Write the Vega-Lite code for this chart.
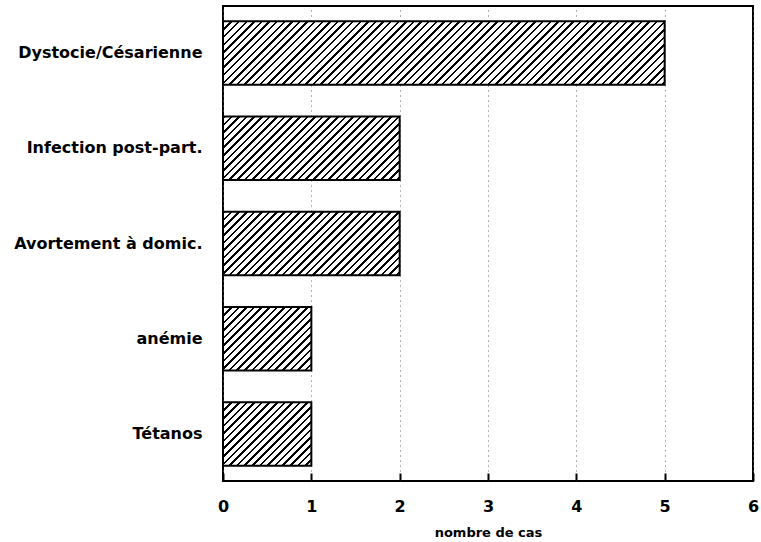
{
  "$schema": "https://vega.github.io/schema/vega-lite/v6.json",
  "width": 530,
  "height": 475,
  "autosize": {"type": "none"},
  "padding": {"left": 223, "top": 6, "right": 8, "bottom": 61},
  "background": "white",
  "config": {"view": {"stroke": "#000", "strokeWidth": 2}, "font": "DejaVu Sans"},
  "data": {"values": [
    {"cause": "Dystocie/Césarienne", "n": 5},
    {"cause": "Infection post-part.", "n": 2},
    {"cause": "Avortement à domic.", "n": 2},
    {"cause": "anémie", "n": 1},
    {"cause": "Tétanos", "n": 1}
  ]},
  "mark": {"type": "bar", "stroke": "#000", "strokeWidth": 2},
  "encoding": {
    "y": {"field": "cause", "type": "nominal", "sort": null,
      "scale": {"paddingInner": 0.333, "paddingOuter": 0.16},
      "axis": {"title": null, "domain": false, "tickSize": -5, "tickColor": "#000", "tickWidth": 1.5,
        "labelPadding": 26, "labelFont": "DejaVu Sans", "labelFontSize": 16, "labelFontWeight": "bold",
        "labelColor": "#000", "labelLimit": 300}},
    "x": {"field": "n", "type": "quantitative",
      "scale": {"domain": [0, 6], "nice": false},
      "axis": {"title": "nombre de cas", "titleFont": "DejaVu Sans", "titleFontSize": 13, "titleFontWeight": "bold",
        "titleColor": "#000", "titlePadding": 12, "values": [0, 1, 2, 3, 4, 5, 6], "format": "d",
        "tickSize": -8, "tickColor": "#000", "tickWidth": 2, "labelPadding": 25,
        "labelFont": "DejaVu Sans", "labelFontSize": 16, "labelFontWeight": "bold", "labelColor": "#000",
        "labelFlush": false, "grid": true, "gridDash": [1, 4], "gridColor": "#666", "domain": false}},
    "fill": {
      "condition": [
        {"test": "datum.n == 5", "value": {"gradient": "linear", "x1": 0, "y1": 0, "x2": 1.1239, "y2": 0.1617, "stops": [
          {"offset":0,"color":"#000"},{"offset":0.005,"color":"#000"},{"offset":0.005,"color":"#fff"},{"offset":0.015,"color":"#fff"},
          {"offset":0.015,"color":"#000"},{"offset":0.02,"color":"#000"},{"offset":0.02,"color":"#fff"},{"offset":0.03,"color":"#fff"},
          {"offset":0.03,"color":"#000"},{"offset":0.035,"color":"#000"},{"offset":0.035,"color":"#fff"},{"offset":0.045,"color":"#fff"},
          {"offset":0.045,"color":"#000"},{"offset":0.05,"color":"#000"},{"offset":0.05,"color":"#fff"},{"offset":0.06,"color":"#fff"},
          {"offset":0.06,"color":"#000"},{"offset":0.065,"color":"#000"},{"offset":0.065,"color":"#fff"},{"offset":0.075,"color":"#fff"},
          {"offset":0.075,"color":"#000"},{"offset":0.08,"color":"#000"},{"offset":0.08,"color":"#fff"},{"offset":0.09,"color":"#fff"},
          {"offset":0.09,"color":"#000"},{"offset":0.095,"color":"#000"},{"offset":0.095,"color":"#fff"},{"offset":0.105,"color":"#fff"},
          {"offset":0.105,"color":"#000"},{"offset":0.11,"color":"#000"},{"offset":0.11,"color":"#fff"},{"offset":0.12,"color":"#fff"},
          {"offset":0.12,"color":"#000"},{"offset":0.125,"color":"#000"},{"offset":0.125,"color":"#fff"},{"offset":0.135,"color":"#fff"},
          {"offset":0.135,"color":"#000"},{"offset":0.14,"color":"#000"},{"offset":0.14,"color":"#fff"},{"offset":0.15,"color":"#fff"},
          {"offset":0.15,"color":"#000"},{"offset":0.155,"color":"#000"},{"offset":0.155,"color":"#fff"},{"offset":0.165,"color":"#fff"},
          {"offset":0.165,"color":"#000"},{"offset":0.17,"color":"#000"},{"offset":0.17,"color":"#fff"},{"offset":0.18,"color":"#fff"},
          {"offset":0.18,"color":"#000"},{"offset":0.185,"color":"#000"},{"offset":0.185,"color":"#fff"},{"offset":0.195,"color":"#fff"},
          {"offset":0.195,"color":"#000"},{"offset":0.2,"color":"#000"},{"offset":0.2,"color":"#fff"},{"offset":0.21,"color":"#fff"},
          {"offset":0.21,"color":"#000"},{"offset":0.215,"color":"#000"},{"offset":0.215,"color":"#fff"},{"offset":0.225,"color":"#fff"},
          {"offset":0.225,"color":"#000"},{"offset":0.23,"color":"#000"},{"offset":0.23,"color":"#fff"},{"offset":0.24,"color":"#fff"},
          {"offset":0.24,"color":"#000"},{"offset":0.245,"color":"#000"},{"offset":0.245,"color":"#fff"},{"offset":0.255,"color":"#fff"},
          {"offset":0.255,"color":"#000"},{"offset":0.26,"color":"#000"},{"offset":0.26,"color":"#fff"},{"offset":0.27,"color":"#fff"},
          {"offset":0.27,"color":"#000"},{"offset":0.275,"color":"#000"},{"offset":0.275,"color":"#fff"},{"offset":0.285,"color":"#fff"},
          {"offset":0.285,"color":"#000"},{"offset":0.29,"color":"#000"},{"offset":0.29,"color":"#fff"},{"offset":0.3,"color":"#fff"},
          {"offset":0.3,"color":"#000"},{"offset":0.305,"color":"#000"},{"offset":0.305,"color":"#fff"},{"offset":0.315,"color":"#fff"},
          {"offset":0.315,"color":"#000"},{"offset":0.32,"color":"#000"},{"offset":0.32,"color":"#fff"},{"offset":0.33,"color":"#fff"},
          {"offset":0.33,"color":"#000"},{"offset":0.335,"color":"#000"},{"offset":0.335,"color":"#fff"},{"offset":0.345,"color":"#fff"},
          {"offset":0.345,"color":"#000"},{"offset":0.35,"color":"#000"},{"offset":0.35,"color":"#fff"},{"offset":0.36,"color":"#fff"},
          {"offset":0.36,"color":"#000"},{"offset":0.365,"color":"#000"},{"offset":0.365,"color":"#fff"},{"offset":0.375,"color":"#fff"},
          {"offset":0.375,"color":"#000"},{"offset":0.38,"color":"#000"},{"offset":0.38,"color":"#fff"},{"offset":0.39,"color":"#fff"},
          {"offset":0.39,"color":"#000"},{"offset":0.395,"color":"#000"},{"offset":0.395,"color":"#fff"},{"offset":0.405,"color":"#fff"},
          {"offset":0.405,"color":"#000"},{"offset":0.41,"color":"#000"},{"offset":0.41,"color":"#fff"},{"offset":0.42,"color":"#fff"},
          {"offset":0.42,"color":"#000"},{"offset":0.425,"color":"#000"},{"offset":0.425,"color":"#fff"},{"offset":0.435,"color":"#fff"},
          {"offset":0.435,"color":"#000"},{"offset":0.44,"color":"#000"},{"offset":0.44,"color":"#fff"},{"offset":0.45,"color":"#fff"},
          {"offset":0.45,"color":"#000"},{"offset":0.455,"color":"#000"},{"offset":0.455,"color":"#fff"},{"offset":0.465,"color":"#fff"},
          {"offset":0.465,"color":"#000"},{"offset":0.47,"color":"#000"},{"offset":0.47,"color":"#fff"},{"offset":0.48,"color":"#fff"},
          {"offset":0.48,"color":"#000"},{"offset":0.485,"color":"#000"},{"offset":0.485,"color":"#fff"},{"offset":0.495,"color":"#fff"},
          {"offset":0.495,"color":"#000"},{"offset":0.5,"color":"#000"},{"offset":0.5,"color":"#fff"},{"offset":0.51,"color":"#fff"},
          {"offset":0.51,"color":"#000"},{"offset":0.515,"color":"#000"},{"offset":0.515,"color":"#fff"},{"offset":0.525,"color":"#fff"},
          {"offset":0.525,"color":"#000"},{"offset":0.53,"color":"#000"},{"offset":0.53,"color":"#fff"},{"offset":0.54,"color":"#fff"},
          {"offset":0.54,"color":"#000"},{"offset":0.545,"color":"#000"},{"offset":0.545,"color":"#fff"},{"offset":0.555,"color":"#fff"},
          {"offset":0.555,"color":"#000"},{"offset":0.56,"color":"#000"},{"offset":0.56,"color":"#fff"},{"offset":0.57,"color":"#fff"},
          {"offset":0.57,"color":"#000"},{"offset":0.575,"color":"#000"},{"offset":0.575,"color":"#fff"},{"offset":0.585,"color":"#fff"},
          {"offset":0.585,"color":"#000"},{"offset":0.59,"color":"#000"},{"offset":0.59,"color":"#fff"},{"offset":0.6,"color":"#fff"},
          {"offset":0.6,"color":"#000"},{"offset":0.605,"color":"#000"},{"offset":0.605,"color":"#fff"},{"offset":0.615,"color":"#fff"},
          {"offset":0.615,"color":"#000"},{"offset":0.62,"color":"#000"},{"offset":0.62,"color":"#fff"},{"offset":0.63,"color":"#fff"},
          {"offset":0.63,"color":"#000"},{"offset":0.635,"color":"#000"},{"offset":0.635,"color":"#fff"},{"offset":0.645,"color":"#fff"},
          {"offset":0.645,"color":"#000"},{"offset":0.65,"color":"#000"},{"offset":0.65,"color":"#fff"},{"offset":0.66,"color":"#fff"},
          {"offset":0.66,"color":"#000"},{"offset":0.665,"color":"#000"},{"offset":0.665,"color":"#fff"},{"offset":0.675,"color":"#fff"},
          {"offset":0.675,"color":"#000"},{"offset":0.68,"color":"#000"},{"offset":0.68,"color":"#fff"},{"offset":0.69,"color":"#fff"},
          {"offset":0.69,"color":"#000"},{"offset":0.695,"color":"#000"},{"offset":0.695,"color":"#fff"},{"offset":0.705,"color":"#fff"},
          {"offset":0.705,"color":"#000"},{"offset":0.71,"color":"#000"},{"offset":0.71,"color":"#fff"},{"offset":0.72,"color":"#fff"},
          {"offset":0.72,"color":"#000"},{"offset":0.725,"color":"#000"},{"offset":0.725,"color":"#fff"},{"offset":0.735,"color":"#fff"},
          {"offset":0.735,"color":"#000"},{"offset":0.74,"color":"#000"},{"offset":0.74,"color":"#fff"},{"offset":0.75,"color":"#fff"},
          {"offset":0.75,"color":"#000"},{"offset":0.755,"color":"#000"},{"offset":0.755,"color":"#fff"},{"offset":0.765,"color":"#fff"},
          {"offset":0.765,"color":"#000"},{"offset":0.77,"color":"#000"},{"offset":0.77,"color":"#fff"},{"offset":0.78,"color":"#fff"},
          {"offset":0.78,"color":"#000"},{"offset":0.785,"color":"#000"},{"offset":0.785,"color":"#fff"},{"offset":0.795,"color":"#fff"},
          {"offset":0.795,"color":"#000"},{"offset":0.8,"color":"#000"},{"offset":0.8,"color":"#fff"},{"offset":0.81,"color":"#fff"},
          {"offset":0.81,"color":"#000"},{"offset":0.815,"color":"#000"},{"offset":0.815,"color":"#fff"},{"offset":0.825,"color":"#fff"},
          {"offset":0.825,"color":"#000"},{"offset":0.83,"color":"#000"},{"offset":0.83,"color":"#fff"},{"offset":0.84,"color":"#fff"},
          {"offset":0.84,"color":"#000"},{"offset":0.845,"color":"#000"},{"offset":0.845,"color":"#fff"},{"offset":0.855,"color":"#fff"},
          {"offset":0.855,"color":"#000"},{"offset":0.86,"color":"#000"},{"offset":0.86,"color":"#fff"},{"offset":0.87,"color":"#fff"},
          {"offset":0.87,"color":"#000"},{"offset":0.875,"color":"#000"},{"offset":0.875,"color":"#fff"},{"offset":0.885,"color":"#fff"},
          {"offset":0.885,"color":"#000"},{"offset":0.89,"color":"#000"},{"offset":0.89,"color":"#fff"},{"offset":0.9,"color":"#fff"},
          {"offset":0.9,"color":"#000"},{"offset":0.905,"color":"#000"},{"offset":0.905,"color":"#fff"},{"offset":0.915,"color":"#fff"},
          {"offset":0.915,"color":"#000"},{"offset":0.92,"color":"#000"},{"offset":0.92,"color":"#fff"},{"offset":0.93,"color":"#fff"},
          {"offset":0.93,"color":"#000"},{"offset":0.935,"color":"#000"},{"offset":0.935,"color":"#fff"},{"offset":0.945,"color":"#fff"},
          {"offset":0.945,"color":"#000"},{"offset":0.95,"color":"#000"},{"offset":0.95,"color":"#fff"},{"offset":0.96,"color":"#fff"},
          {"offset":0.96,"color":"#000"},{"offset":0.965,"color":"#000"},{"offset":0.965,"color":"#fff"},{"offset":0.975,"color":"#fff"},
          {"offset":0.975,"color":"#000"},{"offset":0.98,"color":"#000"},{"offset":0.98,"color":"#fff"},{"offset":0.99,"color":"#fff"},
          {"offset":0.99,"color":"#000"},{"offset":0.995,"color":"#000"},{"offset":0.995,"color":"#fff"},{"offset":1,"color":"#fff"}
        ]}},
        {"test": "datum.n == 2", "value": {"gradient": "linear", "x1": 0, "y1": 0, "x2": 1.2697, "y2": 0.4566, "stops": [
          {"offset":0,"color":"#000"},{"offset":0.01,"color":"#000"},{"offset":0.01,"color":"#fff"},{"offset":0.03,"color":"#fff"},
          {"offset":0.03,"color":"#000"},{"offset":0.04,"color":"#000"},{"offset":0.04,"color":"#fff"},{"offset":0.06,"color":"#fff"},
          {"offset":0.06,"color":"#000"},{"offset":0.07,"color":"#000"},{"offset":0.07,"color":"#fff"},{"offset":0.09,"color":"#fff"},
          {"offset":0.09,"color":"#000"},{"offset":0.1,"color":"#000"},{"offset":0.1,"color":"#fff"},{"offset":0.12,"color":"#fff"},
          {"offset":0.12,"color":"#000"},{"offset":0.13,"color":"#000"},{"offset":0.13,"color":"#fff"},{"offset":0.15,"color":"#fff"},
          {"offset":0.15,"color":"#000"},{"offset":0.16,"color":"#000"},{"offset":0.16,"color":"#fff"},{"offset":0.18,"color":"#fff"},
          {"offset":0.18,"color":"#000"},{"offset":0.19,"color":"#000"},{"offset":0.19,"color":"#fff"},{"offset":0.21,"color":"#fff"},
          {"offset":0.21,"color":"#000"},{"offset":0.22,"color":"#000"},{"offset":0.22,"color":"#fff"},{"offset":0.24,"color":"#fff"},
          {"offset":0.24,"color":"#000"},{"offset":0.25,"color":"#000"},{"offset":0.25,"color":"#fff"},{"offset":0.27,"color":"#fff"},
          {"offset":0.27,"color":"#000"},{"offset":0.28,"color":"#000"},{"offset":0.28,"color":"#fff"},{"offset":0.3,"color":"#fff"},
          {"offset":0.3,"color":"#000"},{"offset":0.31,"color":"#000"},{"offset":0.31,"color":"#fff"},{"offset":0.33,"color":"#fff"},
          {"offset":0.33,"color":"#000"},{"offset":0.34,"color":"#000"},{"offset":0.34,"color":"#fff"},{"offset":0.36,"color":"#fff"},
          {"offset":0.36,"color":"#000"},{"offset":0.37,"color":"#000"},{"offset":0.37,"color":"#fff"},{"offset":0.39,"color":"#fff"},
          {"offset":0.39,"color":"#000"},{"offset":0.4,"color":"#000"},{"offset":0.4,"color":"#fff"},{"offset":0.42,"color":"#fff"},
          {"offset":0.42,"color":"#000"},{"offset":0.43,"color":"#000"},{"offset":0.43,"color":"#fff"},{"offset":0.45,"color":"#fff"},
          {"offset":0.45,"color":"#000"},{"offset":0.46,"color":"#000"},{"offset":0.46,"color":"#fff"},{"offset":0.48,"color":"#fff"},
          {"offset":0.48,"color":"#000"},{"offset":0.49,"color":"#000"},{"offset":0.49,"color":"#fff"},{"offset":0.51,"color":"#fff"},
          {"offset":0.51,"color":"#000"},{"offset":0.52,"color":"#000"},{"offset":0.52,"color":"#fff"},{"offset":0.54,"color":"#fff"},
          {"offset":0.54,"color":"#000"},{"offset":0.55,"color":"#000"},{"offset":0.55,"color":"#fff"},{"offset":0.57,"color":"#fff"},
          {"offset":0.57,"color":"#000"},{"offset":0.58,"color":"#000"},{"offset":0.58,"color":"#fff"},{"offset":0.6,"color":"#fff"},
          {"offset":0.6,"color":"#000"},{"offset":0.61,"color":"#000"},{"offset":0.61,"color":"#fff"},{"offset":0.63,"color":"#fff"},
          {"offset":0.63,"color":"#000"},{"offset":0.64,"color":"#000"},{"offset":0.64,"color":"#fff"},{"offset":0.66,"color":"#fff"},
          {"offset":0.66,"color":"#000"},{"offset":0.67,"color":"#000"},{"offset":0.67,"color":"#fff"},{"offset":0.69,"color":"#fff"},
          {"offset":0.69,"color":"#000"},{"offset":0.7,"color":"#000"},{"offset":0.7,"color":"#fff"},{"offset":0.72,"color":"#fff"},
          {"offset":0.72,"color":"#000"},{"offset":0.73,"color":"#000"},{"offset":0.73,"color":"#fff"},{"offset":0.75,"color":"#fff"},
          {"offset":0.75,"color":"#000"},{"offset":0.76,"color":"#000"},{"offset":0.76,"color":"#fff"},{"offset":0.78,"color":"#fff"},
          {"offset":0.78,"color":"#000"},{"offset":0.79,"color":"#000"},{"offset":0.79,"color":"#fff"},{"offset":0.81,"color":"#fff"},
          {"offset":0.81,"color":"#000"},{"offset":0.82,"color":"#000"},{"offset":0.82,"color":"#fff"},{"offset":0.84,"color":"#fff"},
          {"offset":0.84,"color":"#000"},{"offset":0.85,"color":"#000"},{"offset":0.85,"color":"#fff"},{"offset":0.87,"color":"#fff"},
          {"offset":0.87,"color":"#000"},{"offset":0.88,"color":"#000"},{"offset":0.88,"color":"#fff"},{"offset":0.9,"color":"#fff"},
          {"offset":0.9,"color":"#000"},{"offset":0.91,"color":"#000"},{"offset":0.91,"color":"#fff"},{"offset":0.93,"color":"#fff"},
          {"offset":0.93,"color":"#000"},{"offset":0.94,"color":"#000"},{"offset":0.94,"color":"#fff"},{"offset":0.96,"color":"#fff"},
          {"offset":0.96,"color":"#000"},{"offset":0.97,"color":"#000"},{"offset":0.97,"color":"#fff"},{"offset":1,"color":"#fff"}
        ]}}
      ],
      "value": {"gradient": "linear", "x1": 0, "y1": 0, "x2": 1.1341, "y2": 0.8157, "stops": [
        {"offset":0,"color":"#000"},{"offset":0.017,"color":"#000"},{"offset":0.017,"color":"#fff"},{"offset":0.05,"color":"#fff"},
        {"offset":0.05,"color":"#000"},{"offset":0.067,"color":"#000"},{"offset":0.067,"color":"#fff"},{"offset":0.1,"color":"#fff"},
        {"offset":0.1,"color":"#000"},{"offset":0.117,"color":"#000"},{"offset":0.117,"color":"#fff"},{"offset":0.15,"color":"#fff"},
        {"offset":0.15,"color":"#000"},{"offset":0.167,"color":"#000"},{"offset":0.167,"color":"#fff"},{"offset":0.2,"color":"#fff"},
        {"offset":0.2,"color":"#000"},{"offset":0.217,"color":"#000"},{"offset":0.217,"color":"#fff"},{"offset":0.25,"color":"#fff"},
        {"offset":0.25,"color":"#000"},{"offset":0.267,"color":"#000"},{"offset":0.267,"color":"#fff"},{"offset":0.3,"color":"#fff"},
        {"offset":0.3,"color":"#000"},{"offset":0.317,"color":"#000"},{"offset":0.317,"color":"#fff"},{"offset":0.35,"color":"#fff"},
        {"offset":0.35,"color":"#000"},{"offset":0.367,"color":"#000"},{"offset":0.367,"color":"#fff"},{"offset":0.4,"color":"#fff"},
        {"offset":0.4,"color":"#000"},{"offset":0.417,"color":"#000"},{"offset":0.417,"color":"#fff"},{"offset":0.45,"color":"#fff"},
        {"offset":0.45,"color":"#000"},{"offset":0.467,"color":"#000"},{"offset":0.467,"color":"#fff"},{"offset":0.5,"color":"#fff"},
        {"offset":0.5,"color":"#000"},{"offset":0.517,"color":"#000"},{"offset":0.517,"color":"#fff"},{"offset":0.55,"color":"#fff"},
        {"offset":0.55,"color":"#000"},{"offset":0.567,"color":"#000"},{"offset":0.567,"color":"#fff"},{"offset":0.6,"color":"#fff"},
        {"offset":0.6,"color":"#000"},{"offset":0.617,"color":"#000"},{"offset":0.617,"color":"#fff"},{"offset":0.65,"color":"#fff"},
        {"offset":0.65,"color":"#000"},{"offset":0.667,"color":"#000"},{"offset":0.667,"color":"#fff"},{"offset":0.7,"color":"#fff"},
        {"offset":0.7,"color":"#000"},{"offset":0.717,"color":"#000"},{"offset":0.717,"color":"#fff"},{"offset":0.75,"color":"#fff"},
        {"offset":0.75,"color":"#000"},{"offset":0.767,"color":"#000"},{"offset":0.767,"color":"#fff"},{"offset":0.8,"color":"#fff"},
        {"offset":0.8,"color":"#000"},{"offset":0.817,"color":"#000"},{"offset":0.817,"color":"#fff"},{"offset":0.85,"color":"#fff"},
        {"offset":0.85,"color":"#000"},{"offset":0.867,"color":"#000"},{"offset":0.867,"color":"#fff"},{"offset":0.9,"color":"#fff"},
        {"offset":0.9,"color":"#000"},{"offset":0.917,"color":"#000"},{"offset":0.917,"color":"#fff"},{"offset":0.95,"color":"#fff"},
        {"offset":0.95,"color":"#000"},{"offset":0.967,"color":"#000"},{"offset":0.967,"color":"#fff"},{"offset":1,"color":"#fff"}
      ]}
    }
  }
}
